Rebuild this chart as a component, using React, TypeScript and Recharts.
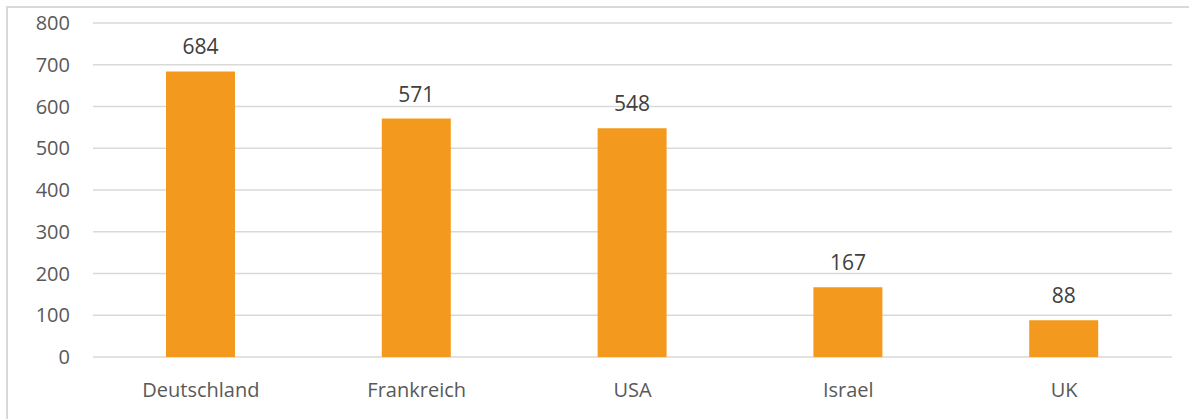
import React from "react";
import { BarChart, Bar, XAxis, YAxis, CartesianGrid, LabelList } from "recharts";

const categories = ["Deutschland", "Frankreich", "USA", "Israel", "UK"];
const values = [684, 571, 548, 167, 88];
const yTicks = [0, 100, 200, 300, 400, 500, 600, 700, 800];

const data = categories.map((c, i) => ({ name: c, value: values[i] }));

const font = "'Open Sans', sans-serif";
const textColor = "#595959";

export default function App() {
  return (
    <div style={{ position: "absolute", left: 0, top: 0, width: 1189, height: 419, background: "#fff", overflow: "hidden" }}>
      <div
        style={{
          position: "absolute",
          left: 6,
          top: 6,
          width: 1200,
          height: 430,
          border: "2px solid #d9d9d9",
          boxSizing: "border-box",
        }}
      />
      <div style={{ position: "absolute", left: 0, top: 0 }}>
        <BarChart
          width={1189}
          height={419}
          data={data}
          margin={{ top: 23, right: 17, bottom: 0, left: 0 }}
          barCategoryGap={0}
        >
          <CartesianGrid vertical={false} stroke="#d9d9d9" strokeWidth={1.5} />
          <XAxis
            dataKey="name"
            axisLine={false}
            tickLine={false}
            tickSize={0}
            tickMargin={26}
            height={62}
            interval={0}
            tick={{ fill: textColor, fontSize: 20, fontFamily: font }}
          />
          <YAxis
            domain={[0, 800]}
            ticks={yTicks}
            axisLine={false}
            tickLine={false}
            tickSize={0}
            tickMargin={23}
            width={93}
            interval={0}
            tick={{ fill: textColor, fontSize: 20, fontFamily: font }}
          />
          <Bar dataKey="value" fill="#F39A1E" barSize={69} isAnimationActive={false}>
            <LabelList
              dataKey="value"
              position="top"
              offset={17}
              style={{ fill: "#404040", fontSize: 21, fontFamily: font }}
            />
          </Bar>
        </BarChart>
      </div>
    </div>
  );
}
